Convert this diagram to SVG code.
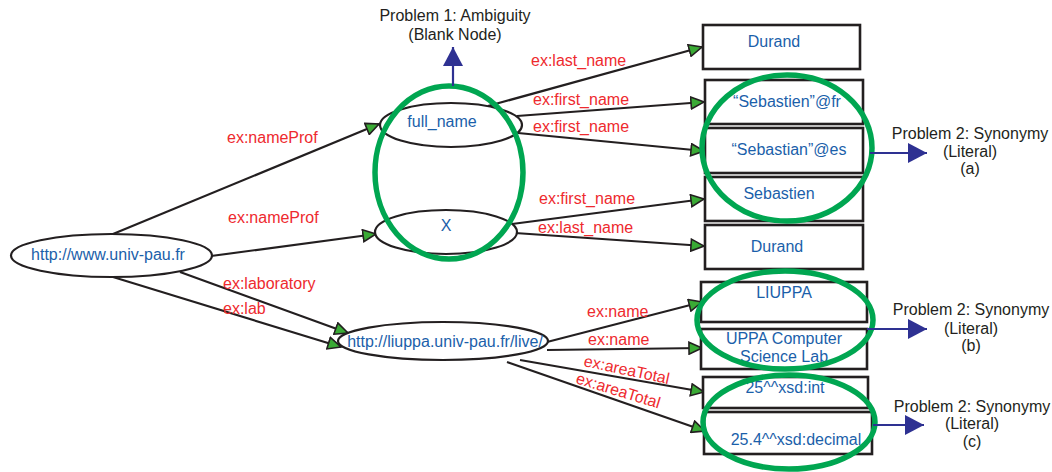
<svg xmlns="http://www.w3.org/2000/svg" width="1052" height="472" viewBox="0 0 1052 472">
<defs>
<marker id="gh" markerUnits="userSpaceOnUse" markerWidth="16" markerHeight="14" refX="13" refY="6" orient="auto" viewBox="-1 -1 16 14">
<path d="M0,0 L13,6 L0,12 z" fill="#3aaa35" stroke="#231f20" stroke-width="1.6" stroke-linejoin="miter"/>
</marker>
<marker id="bh" markerUnits="userSpaceOnUse" markerWidth="20" markerHeight="22" refX="19" refY="10" orient="auto" viewBox="0 0 20 22">
<path d="M0,0 L19,10 L0,20 z" fill="#2e3192"/>
</marker>
</defs>
<style>
text{font-family:"Liberation Sans",Arial,sans-serif;font-size:16px}
.n{fill:#1b5faa;text-anchor:middle}
.l{fill:#ee2a2e}
.p{fill:#231f20;text-anchor:middle}
.e{fill:#fff;stroke:#231f20;stroke-width:2.2}
.r{fill:#fff;stroke:#231f20;stroke-width:2.6}
.c{fill:none;stroke:#231f20;stroke-width:2.2;marker-end:url(#gh)}
.g{fill:none;stroke:#00a651;stroke-width:5.5}
.b{fill:none;stroke:#2e3192;stroke-width:2.2;marker-end:url(#bh)}
</style>

<g id="connectors">
<line class="c" x1="113" y1="234" x2="379" y2="124"/>
<line class="c" x1="211" y1="256" x2="376" y2="234"/>
<line class="c" x1="180" y1="272" x2="348" y2="333"/>
<line class="c" x1="113" y1="277" x2="341" y2="347"/>
<line class="c" x1="488" y1="106" x2="702" y2="47"/>
<line class="c" x1="517" y1="116" x2="704" y2="102"/>
<line class="c" x1="518" y1="133" x2="704" y2="151"/>
<line class="c" x1="512" y1="224" x2="704" y2="199"/>
<line class="c" x1="515" y1="233" x2="704" y2="246"/>
<line class="c" x1="547" y1="342" x2="702" y2="302"/>
<line class="c" x1="547" y1="350" x2="702" y2="348"/>
<line class="c" x1="520" y1="360" x2="704" y2="392"/>
<line class="c" x1="507" y1="362" x2="705" y2="431"/>
<text class="l" x="227" y="143">ex:nameProf</text>
<text class="l" x="228" y="223">ex:nameProf</text>
<text class="l" x="223" y="289">ex:laboratory</text>
<text class="l" x="223" y="314">ex:lab</text>
<text class="l" x="531" y="66">ex:last_name</text>
<text class="l" x="533" y="105">ex:first_name</text>
<text class="l" x="533" y="132">ex:first_name</text>
<text class="l" x="539" y="204">ex:first_name</text>
<text class="l" x="538" y="233">ex:last_name</text>
<text class="l" x="587" y="317">ex:name</text>
<text class="l" x="588" y="345">ex:name</text>
<text class="l" transform="translate(583,366) rotate(12)">ex:areaTotal</text>
<text class="l" transform="translate(575,383) rotate(17)">ex:areaTotal</text>
</g>

<g id="n-univpau"><ellipse class="e" cx="111.5" cy="255.5" rx="100.5" ry="21.5"/><text class="n" x="108" y="260">http://www.univ-pau.fr</text></g>
<g id="n-fullname"><ellipse class="e" cx="451" cy="125" rx="71" ry="22"/><text class="n" x="442" y="127">full_name</text></g>
<g id="n-x"><ellipse class="e" cx="446" cy="232" rx="71" ry="22"/><text class="n" x="446" y="231">X</text></g>
<g id="n-liuppa"><ellipse class="e" cx="443" cy="341" rx="105" ry="19"/><text class="n" x="445" y="347">http://liuppa.univ-pau.fr/live/</text></g>

<g id="n-durand1"><rect class="r" x="703" y="25" width="157" height="44"/><text class="n" x="774" y="47">Durand</text></g>
<g id="n-sebfr"><rect class="r" x="705" y="80" width="158" height="44"/><text class="n" x="787" y="107">“Sebastien”@fr</text></g>
<g id="n-sebes"><rect class="r" x="705" y="128" width="158" height="45"/><text class="n" x="789" y="155">“Sebastian”@es</text></g>
<g id="n-seb"><rect class="r" x="705" y="177" width="158" height="44"/><text class="n" x="779" y="199">Sebastien</text></g>
<g id="n-durand2"><rect class="r" x="705" y="225" width="158" height="44"/><text class="n" x="777" y="252">Durand</text></g>
<g id="n-liuppalit"><rect class="r" x="701" y="282" width="166" height="40"/><text class="n" x="784" y="298">LIUPPA</text></g>
<g id="n-uppacs"><rect class="r" x="701" y="329" width="166" height="40"/><text class="n" x="784" y="344">UPPA Computer</text><text class="n" x="784" y="362">Science Lab</text></g>
<g id="n-int"><rect class="r" x="703" y="377" width="165" height="31"/><text class="n" x="785" y="393">25^^xsd:int</text></g>
<g id="n-dec"><rect class="r" x="704" y="412" width="168" height="42"/><text class="n" x="796" y="445">25.4^^xsd:decimal</text></g>

<g id="problem1">
<ellipse class="g" cx="449" cy="172.5" rx="74" ry="86.5"/>
<line class="b" x1="453" y1="86" x2="453" y2="47"/>
<text class="p" x="455" y="21">Problem 1: Ambiguity</text>
<text class="p" x="455" y="40">(Blank Node)</text>
</g>
<g id="problem2a">
<ellipse class="g" cx="787" cy="148" rx="85" ry="73"/>
<line class="b" x1="870" y1="153" x2="927" y2="153"/>
<text class="p" x="970" y="139">Problem 2: Synonymy</text>
<text class="p" x="970" y="157">(Literal)</text>
<text class="p" x="970" y="174">(a)</text>
</g>
<g id="problem2b">
<ellipse class="g" cx="785" cy="320" rx="88" ry="49"/>
<line class="b" x1="867" y1="329" x2="927" y2="329"/>
<text class="p" x="971" y="315">Problem 2: Synonymy</text>
<text class="p" x="971" y="334">(Literal)</text>
<text class="p" x="971" y="351">(b)</text>
</g>
<g id="problem2c">
<ellipse class="g" cx="789" cy="422" rx="86" ry="47"/>
<line class="b" x1="873" y1="425" x2="924" y2="425"/>
<text class="p" x="972" y="412">Problem 2: Synonymy</text>
<text class="p" x="972" y="429">(Literal)</text>
<text class="p" x="972" y="447">(c)</text>
</g>
</svg>
